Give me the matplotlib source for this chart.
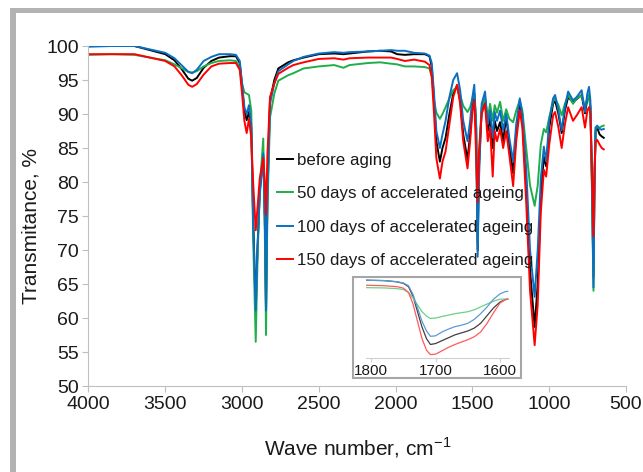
import matplotlib
matplotlib.use("Agg")
import matplotlib.pyplot as plt
from matplotlib.patches import Rectangle

plt.rcParams['font.family'] = ['Liberation Sans', 'DejaVu Sans']

# wave numbers (cm-1) and transmittance (%)
wavenumber = [4000, 3850, 3700, 3600, 3500, 3440, 3390, 3350, 3325, 3295,
              3250, 3200, 3150, 3080, 3040, 3015, 3000, 2985, 2970, 2955,
              2940, 2928, 2911, 2900, 2885, 2862, 2852, 2844, 2835, 2818,
              2790, 2764, 2700, 2666, 2600, 2500, 2400, 2340, 2300, 2180,
              2100, 2030, 1990, 1940, 1880, 1810, 1780, 1765, 1750, 1735,
              1712, 1695, 1675, 1650, 1625, 1600, 1580, 1560, 1532, 1515,
              1500, 1488, 1476, 1466, 1458, 1440, 1418, 1400, 1385, 1368,
              1355, 1340, 1320, 1300, 1280, 1260, 1235, 1215, 1192, 1175,
              1150, 1125, 1095, 1075, 1055, 1035, 1020, 1000, 975, 962,
              940, 919, 898, 877, 845, 821, 789, 767, 752, 741,
              732, 722, 712, 705, 698, 688, 672, 658, 645]

before = [100.0, 100.0, 100.0, 99.4, 98.8, 97.9, 96.5, 95.2, 94.9, 95.3,
          96.8, 97.8, 98.3, 98.5, 98.5, 97.5, 94.0, 90.5, 89.1, 90.3,
          88.0, 75.0, 61.0, 70.0, 78.5, 84.0, 75.0, 61.0, 78.0, 92.0,
          95.0, 96.7, 97.6, 97.9, 98.3, 98.8, 98.9, 98.8, 98.9, 99.2,
          99.3, 99.2, 98.8, 98.7, 98.8, 98.8, 98.5, 97.0, 92.0, 86.0,
          83.0, 85.0, 86.5, 90.0, 93.0, 94.2, 92.0, 87.0, 83.3, 87.0,
          91.0, 93.0, 88.0, 70.0, 82.0, 90.5, 92.2, 87.5, 89.5, 85.0,
          89.0, 87.5, 88.8, 86.0, 89.7, 85.5, 81.3, 87.0, 91.3, 89.0,
          80.0, 67.0, 58.7, 65.0, 78.0, 83.7, 82.3, 88.0, 91.5, 92.0,
          90.0, 87.2, 90.5, 92.5, 91.7, 92.2, 92.8, 90.1, 92.2, 92.8,
          91.0, 80.0, 66.0, 80.0, 87.5, 88.0, 87.0, 86.7, 86.5]

days50 = [98.7, 98.8, 98.7, 98.3, 97.9, 97.3, 96.7, 96.2, 96.1, 96.3,
          97.0, 97.5, 97.8, 97.9, 97.8, 96.8, 94.5, 93.2, 93.0, 92.8,
          90.5, 72.0, 56.5, 68.0, 79.0, 86.4, 73.0, 57.5, 76.0, 89.5,
          93.0, 94.9, 95.7, 96.0, 96.7, 97.0, 97.2, 96.8, 97.2, 97.5,
          97.6, 97.4, 97.3, 97.0, 97.0, 96.9, 96.7, 95.5, 92.0, 90.2,
          89.3, 90.0, 91.0, 92.3, 93.5, 94.0, 92.8, 91.2, 90.3, 91.0,
          92.3, 93.0, 89.0, 71.0, 84.0, 91.0, 92.3, 89.5, 91.5, 89.0,
          91.3, 90.2, 91.8, 89.0, 90.7, 89.3, 88.8, 90.5, 92.0, 90.5,
          85.0, 79.5, 76.5, 79.5, 85.5, 87.8, 87.3, 89.5, 91.8, 92.3,
          91.3, 89.8, 91.5, 92.8, 91.5, 92.3, 92.7, 91.0, 92.3, 92.8,
          91.0, 79.0, 64.0, 81.0, 88.0, 88.0, 88.0, 88.2, 88.3]

days100 = [99.9, 100.0, 100.0, 99.5, 99.0, 98.2, 97.1, 96.2, 96.0, 96.5,
           97.8, 98.4, 98.8, 98.8, 98.7, 97.8, 94.5, 91.0, 90.0, 91.3,
           88.5, 74.0, 61.1, 70.0, 78.0, 84.2, 74.5, 61.1, 78.0, 91.5,
           94.5, 96.3, 97.3, 97.8, 98.4, 98.9, 99.1, 99.0, 99.1, 99.2,
           99.3, 99.4, 99.3, 99.3, 99.0, 98.9, 98.6, 97.5, 93.0, 87.5,
           85.0, 87.0, 89.0, 92.5, 95.0, 96.0, 93.5, 89.0, 86.0, 89.0,
           92.5, 94.3, 88.0, 69.0, 80.0, 91.5, 93.3, 88.5, 90.5, 86.5,
           90.3, 89.0, 90.5, 87.6, 90.0, 86.5, 83.0, 88.5, 92.3, 90.0,
           82.0, 70.0, 63.1, 70.0, 80.5, 85.2, 83.0, 89.0, 92.3, 92.8,
           90.5, 87.6, 91.0, 93.3, 92.0, 92.5, 93.5, 90.3, 93.0, 94.0,
           92.0, 81.0, 64.5, 80.0, 88.0, 88.3, 87.8, 87.7, 87.8]

days150 = [98.8, 98.8, 98.8, 98.3, 97.8, 97.0, 95.6, 94.3, 94.0, 94.4,
           95.8, 97.0, 97.4, 97.5, 97.5, 96.5, 93.0, 89.0, 87.2, 89.3,
           86.5, 80.0, 72.9, 76.0, 80.5, 83.5, 80.0, 75.2, 84.0, 92.5,
           94.5, 95.9, 96.8, 97.2, 97.6, 98.1, 98.2, 98.0, 98.2, 98.3,
           98.3, 98.3, 98.1, 97.8, 98.0, 97.7, 97.2, 95.5, 90.0, 83.5,
           80.5, 83.0, 84.5, 88.5, 92.5, 94.3, 91.5, 86.0, 82.0, 86.0,
           90.5, 92.0, 84.0, 77.0, 84.0, 90.0, 91.5, 86.0, 88.0, 80.8,
           87.5, 86.0, 87.8, 85.0, 87.5, 84.0, 79.4, 86.0, 90.6, 88.0,
           77.0, 64.0, 56.0, 62.0, 75.5, 81.8, 80.8, 85.5, 89.8, 90.3,
           88.0, 85.0, 88.5, 91.0, 89.0, 89.8, 91.0, 88.0, 90.5, 91.0,
           90.0, 82.0, 72.0, 82.0, 86.0, 86.2, 85.5, 85.0, 84.8]

labels = ['before aging', '50 days of accelerated ageing',
          '100 days of accelerated ageing', '150 days of accelerated ageing']
colors = ['#000000', '#1fae4b', '#0a6fc2', '#ff0000']

# inset: carbonyl band, arbitrary units
inset_wn = [1808, 1780, 1760, 1750, 1742, 1735, 1728, 1721, 1714, 1708, 1700, 1690,
            1680, 1670, 1660, 1650, 1640, 1630, 1620, 1610, 1600, 1592, 1588]
inset_before = [80.7, 80.3, 79, 77.5, 74, 64, 48, 32, 20, 14, 15, 18,
                21, 24, 26, 28, 31, 36, 44, 52, 58, 60.5, 61]
inset_50 = [73, 72.7, 72, 71, 68, 62, 55, 48, 43.5, 41, 41.5, 43,
            44.5, 46, 47, 48, 50, 53, 56, 59, 61, 61.2, 61.3]
inset_100 = [80.7, 80.3, 79.2, 77.8, 75, 66, 52, 38, 28, 22.5, 23, 27,
             30, 32.5, 34, 36, 40, 46, 53, 61, 66.5, 68.8, 69.2]
inset_150 = [75.5, 75, 74, 72.5, 68, 56, 38, 20, 8, 3.5, 4, 7.5,
             11, 14, 16.5, 19, 22, 27, 36, 47, 57, 60.5, 61]
inset_colors = ['#404040', '#6cd08a', '#5a9ad6', '#ff5a5a']

fig = plt.figure(figsize=(6.43, 4.72), dpi=100)
ax = fig.add_axes([0.1376, 0.1822, 0.8360, 0.7203])

for ys, lab, c in zip([before, days50, days100, days150], labels, colors):
    ax.plot(wavenumber, ys, color=c, lw=1.4, label=lab, solid_joinstyle='round')

ax.set_xlim(4000, 500)
ax.set_ylim(50, 100)
ax.set_xticks(range(4000, 499, -500))
ax.set_yticks(range(50, 101, 5))
for s in ['top', 'right']:
    ax.spines[s].set_visible(False)
for s in ['left', 'bottom']:
    ax.spines[s].set_color('#bfbfbf')
ax.tick_params(direction='out', length=4, color='#bfbfbf', labelsize=14,
               labelcolor='#1a1a1a', pad=3)
ax.set_xlabel('Wave number, cm$^{\\mathregular{-1}}$', fontsize=15, color='#1a1a1a')
ax.set_ylabel('Transmitance, %', fontsize=15, color='#1a1a1a')
ax.xaxis.set_label_coords(0.5, -0.144)
ax.yaxis.set_label_coords(-0.090, 0.47)

ax.legend(loc='upper left', bbox_to_anchor=(0.351, 0.685), frameon=False,
          fontsize=12.2, handlelength=0.95, handletextpad=0.25,
          labelspacing=1.08, borderpad=0, borderaxespad=0, labelcolor='#1a1a1a')

# outer grey frame
fig.patches.append(Rectangle((10/643, 1 - 13/472), 1, 5/472, transform=fig.transFigure,
                             facecolor='#b3b3b3', edgecolor='none', zorder=1))
fig.patches.append(Rectangle((10/643, 0), 6/643, 1 - 8/472, transform=fig.transFigure,
                             facecolor='#b3b3b3', edgecolor='none', zorder=1))

# inset box
fig.patches.append(Rectangle((353/643, 1 - 378/472), 168/643, 101/472,
                             transform=fig.transFigure, facecolor='white',
                             edgecolor='#a6a6a6', lw=1.5, zorder=1))
axi = fig.add_axes([366/643, 1 - 358/472, 143/643, 80/472], zorder=2)
axi.patch.set_alpha(0)
for ys, c in zip([inset_before, inset_50, inset_100, inset_150], inset_colors):
    axi.plot(inset_wn, ys, color=c, lw=0.9)
axi.set_xlim(1808, 1586)
axi.set_ylim(0, 83)
axi.set_xticks([1800, 1700, 1600])
axi.set_yticks([])
for s in ['top', 'right', 'left']:
    axi.spines[s].set_visible(False)
axi.spines['bottom'].set_color('#d0d0d0')
axi.tick_params(axis='x', direction='out', length=3, color='#d0d0d0', labelsize=11,
                labelcolor='#1a1a1a', pad=1)

fig.savefig('out.png', dpi=100)
